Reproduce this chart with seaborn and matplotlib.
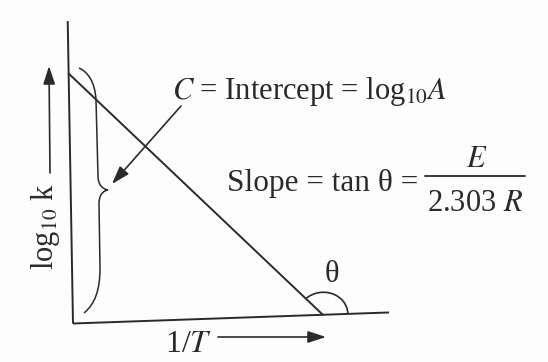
import numpy as np
import matplotlib
matplotlib.use("Agg")
import matplotlib.pyplot as plt
from matplotlib.transforms import Affine2D
from matplotlib.patches import Arc, PathPatch
from matplotlib.path import Path
import pandas as pd
import seaborn as sns

# Arrhenius plot: log10 k falls on a straight line against 1/T
inv_T = [0.0, 1.0]
log10_k = [1.0, 0.0]

intercept_label = r"$C$ = Intercept = log$_{10}$$A$"
slope_label = "Slope = tan θ ="
slope_num = r"$E$"
slope_den = r"2.303 $R$"
x_label = r"1/$T$"
y_label = r"log$_{10}$ k"
angle_label = "θ"

sns.set_theme(style="white")
plt.rcParams["font.family"] = ["Liberation Serif", "DejaVu Serif"]
plt.rcParams["mathtext.fontset"] = "stix"

ink = "#2a2a2a"

W, H = 548, 362
fig = plt.figure(figsize=(W / 100, H / 100), dpi=100)
fig.patch.set_facecolor("#fdfdfd")

# page layer in pixel units, y pointing down
page = fig.add_axes([0, 0, 1, 1])
page.set_xlim(0, W)
page.set_ylim(H, 0)
page.axis("off")
page.set_facecolor("none")

# graph layer: origin at the corner of the axes, one unit = 250 px
ox, oy, unit = 73, 323.5, 250
graph = fig.add_axes([0, 0, 1, 1], facecolor="none")

df = pd.DataFrame({"inv_T": inv_T, "log10_k": log10_k})
sns.lineplot(data=df, x="inv_T", y="log10_k", ax=graph, color=ink, lw=1.4)

graph.set_xlim(-ox / unit, (W - ox) / unit)
graph.set_ylim(-(H - oy) / unit, oy / unit)
graph.axis("off")

# the printed figure sits slightly skewed on the page
a, b = np.deg2rad(2.0), np.deg2rad(1.0)
skew = Affine2D(np.array([[np.cos(a), -np.sin(b), 0.0],
                          [np.sin(a), np.cos(b), 0.0],
                          [0.0, 0.0, 1.0]]))
tr = skew + graph.transData
for ln in graph.lines:
    ln.set_transform(tr)

# hand-drawn axes of the sketch
x_end, y_end = 1.265, 1.21
graph.plot([0, x_end], [0, 0], color=ink, lw=1.4, transform=tr,
           solid_capstyle="butt")
graph.plot([0, 0], [0, y_end], color=ink, lw=1.4, transform=tr,
           solid_capstyle="butt")

# angle theta where the line meets the 1/T axis
x_cut = inv_T[int(np.argmin(log10_k))]
graph.add_patch(Arc((x_cut, 0), 0.2, 0.18, theta1=0, theta2=135,
                    color=ink, lw=1.2, transform=tr))

# curly brace spanning the intercept
brace = Path(
    [(79, 68), (88, 72), (95, 82), (96, 100),
     (98, 176),
     (98, 184), (102, 189), (108, 190),
     (102, 191), (99, 196), (99, 204),
     (100, 268),
     (100, 290), (95, 304), (84, 313)],
    [Path.MOVETO, Path.CURVE4, Path.CURVE4, Path.CURVE4,
     Path.LINETO,
     Path.CURVE4, Path.CURVE4, Path.CURVE4,
     Path.CURVE4, Path.CURVE4, Path.CURVE4,
     Path.LINETO,
     Path.CURVE4, Path.CURVE4, Path.CURVE4])
page.add_patch(PathPatch(brace, fill=False, edgecolor=ink, lw=1.1))

arrow = dict(arrowstyle="-|>,head_length=1.1,head_width=0.36",
             mutation_scale=10, color=ink, lw=1.2, shrinkA=0, shrinkB=0)
# y direction arrow and label
page.annotate("", xy=(49, 66), xytext=(50, 173), arrowprops=arrow)
page.text(46, 226, y_label, rotation=90, ha="center", va="center",
          fontsize=22, color=ink)
# x direction arrow and label
page.annotate("", xy=(326, 337), xytext=(218, 337), arrowprops=arrow)
page.text(165, 352, x_label, ha="left", va="baseline", fontsize=23, color=ink)

# intercept annotation
page.text(172, 99, intercept_label, ha="left", va="baseline", fontsize=22,
          color=ink)
page.annotate("", xy=(112, 184), xytext=(181, 106), arrowprops=arrow)

# slope annotation
page.text(227, 191, slope_label, ha="left", va="baseline", fontsize=22.5,
          color=ink)
page.plot([425, 525], [176, 176], color=ink, lw=1.3)
page.text(477, 167, slope_num, ha="center", va="baseline", fontsize=22,
          color=ink)
page.text(475, 211, slope_den, ha="center", va="baseline", fontsize=22,
          color=ink)

# angle label
page.text(332, 275, angle_label, ha="center", va="center", fontsize=22,
          color=ink)

fig.savefig("out.png", dpi=100, facecolor=fig.get_facecolor())
